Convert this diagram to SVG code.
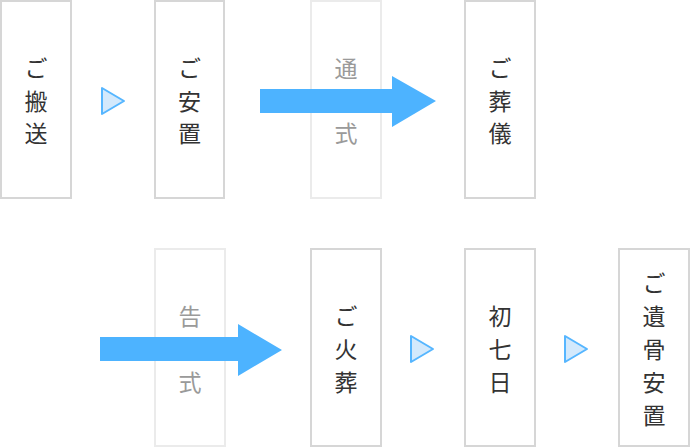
<svg xmlns="http://www.w3.org/2000/svg" width="690" height="448" viewBox="0 0 690 448">
<style>
.box{fill:#fff;stroke:#d6d6d6;stroke-width:2}
.fbox{fill:#fff;stroke:#ebebeb;stroke-width:2}
.t{font-family:"Noto Sans CJK JP","Noto Sans CJK SC",sans-serif;font-size:23px;fill:#333;text-anchor:middle}
.ft{fill:#9a9a9a}
.tri{fill:#d3e9fc;stroke:#56b6ff;stroke-width:2;stroke-linejoin:round}
.arr{fill:#4db3ff}
</style>
<rect width="690" height="448" fill="#fff"/>
<g id="n1"><rect class="box" x="1" y="1" width="70" height="197"/>
<text class="t"><tspan x="36" y="77">ご</tspan><tspan x="36" y="110">搬</tspan><tspan x="36" y="142">送</tspan></text></g>
<g id="n2"><rect class="box" x="155" y="1" width="69" height="197"/>
<text class="t"><tspan x="189.5" y="77">ご</tspan><tspan x="189.5" y="110">安</tspan><tspan x="189.5" y="142">置</tspan></text></g>
<g id="n3"><rect class="fbox" x="311" y="1" width="70" height="197"/>
<text class="t ft"><tspan x="346" y="77">通</tspan><tspan x="346" y="110">夜</tspan><tspan x="346" y="142">式</tspan></text></g>
<g id="n4"><rect class="box" x="465" y="1" width="70" height="197"/>
<text class="t"><tspan x="500" y="77">ご</tspan><tspan x="500" y="110">葬</tspan><tspan x="500" y="142">儀</tspan></text></g>
<g id="n5"><rect class="fbox" x="155" y="249" width="70" height="197"/>
<text class="t ft"><tspan x="190" y="325">告</tspan><tspan x="190" y="358">別</tspan><tspan x="190" y="391">式</tspan></text></g>
<g id="n6"><rect class="box" x="311" y="249" width="70" height="197"/>
<text class="t"><tspan x="346" y="325">ご</tspan><tspan x="346" y="358">火</tspan><tspan x="346" y="391">葬</tspan></text></g>
<g id="n7"><rect class="box" x="465" y="249" width="70" height="197"/>
<text class="t"><tspan x="500" y="325">初</tspan><tspan x="500" y="358">七</tspan><tspan x="500" y="391">日</tspan></text></g>
<g id="n8"><rect class="box" x="619" y="249" width="70" height="197"/>
<text class="t"><tspan x="654" y="292">ご</tspan><tspan x="654" y="325">遺</tspan><tspan x="654" y="358">骨</tspan><tspan x="654" y="391">安</tspan><tspan x="654" y="424">置</tspan></text></g>
<g id="connectors">
<polygon class="tri" points="102,88 102,114 124,101"/>
<polygon class="tri" points="411,336 411,362 433,349"/>
<polygon class="tri" points="565,336 565,362 587,349"/>
<polygon class="arr" points="260,89 392,89 392,76 436,101 392,127 392,113 260,113"/>
<polygon class="arr" points="100,337 238,337 238,324 282,350 238,376 238,361 100,361"/>
</g>
</svg>
